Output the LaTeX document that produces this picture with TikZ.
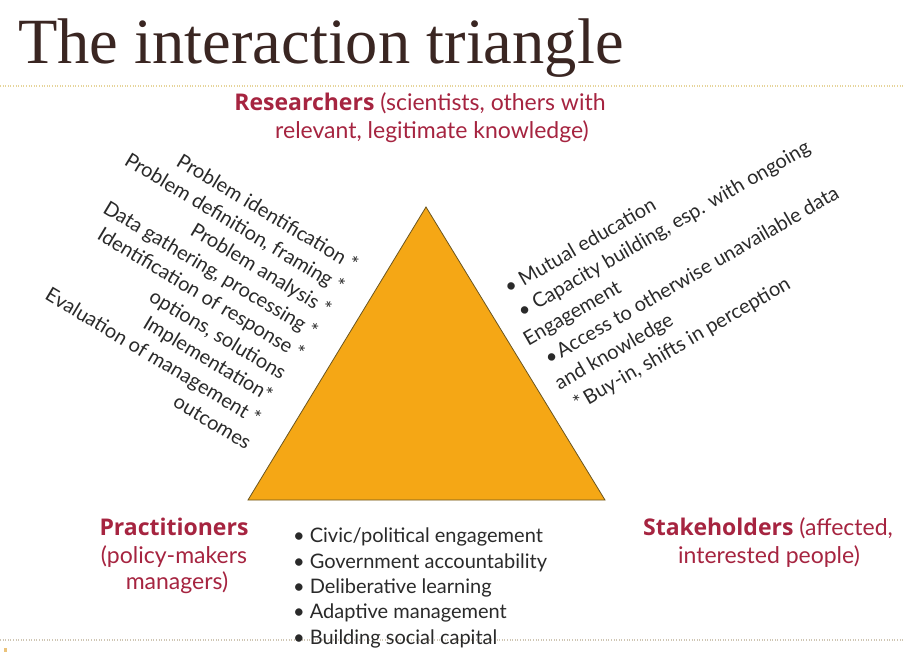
\documentclass[tikz,border=0pt]{standalone}
\usepackage{fontspec}
\setmainfont{Liberation Serif}
\newfontfamily\gill{Lato}
\newfontfamily\gillbold{Open Sans}
\definecolor{titlec}{HTML}{3A2622}
\definecolor{redt}{HTML}{A62440}
\definecolor{txt}{HTML}{2A2A2A}
\definecolor{trif}{HTML}{F5A715}
\definecolor{tril}{HTML}{6A5520}
\definecolor{dottop}{HTML}{E6D49A}
\definecolor{dotbot}{HTML}{CFC6B4}
\newcommand{\hb}[1]{{\gillbold\bfseries #1}}
\tikzset{
  head/.style={inner sep=0, text=redt, font=\gill\fontsize{23}{26}\selectfont},
  lt/.style={inner sep=0, text=txt, font=\gill\fontsize{20}{24}\selectfont, transform shape},
  blist/.style={inner sep=0, text=txt, font=\gill\fontsize{20}{24}\selectfont, anchor=base west},
  dotline/.style={line width=1.2pt, dash pattern=on 1pt off 1.6pt},
}
\begin{document}
\begin{tikzpicture}[x=1pt,y=-1pt]
\useasboundingbox (0,0) rectangle (905,654);
\fill[white] (0,0) rectangle (905,654);
% title
\node[anchor=base west, inner sep=0, text=titlec, font=\fontsize{64.5}{70}\selectfont] (title) at (18,63) {The interaction triangle};
\coordinate (tl) at (0,86); \coordinate (tr) at (905,86);
\draw[dotline, dottop] (tl) -- (tr);
\coordinate (bl) at (0,640); \coordinate (br) at (905,640);
\draw[dotline, dotbot] (bl) -- (br);
\fill[dottop!80!orange] (4,648) rectangle (7,652);
% triangle
\coordinate (apex) at (426,207);
\coordinate (tbl) at (248,500);
\coordinate (tbr) at (605,500);
\filldraw[fill=trif, draw=tril, line width=0.8pt, line join=miter] (apex) -- (tbr) -- (tbl) -- cycle;
% headings
\node[head, anchor=base] (res1) at (420,110) {\hb{Researchers} (scientists, others with};
\node[head, anchor=base] (res2) at (432,138) {relevant, legitimate knowledge)};
\node[head, anchor=base] (pr1) at (174,535) {\hb{Practitioners}};
\node[head, anchor=base] (pr2) at (174,563) {(policy-makers};
\node[head, anchor=base] (pr3) at (177,589) {managers)};
\node[head, anchor=base] (st1) at (768,535) {\hb{Stakeholders} (affected,};
\node[head, anchor=base] (st2) at (769,563) {interested people)};
% bottom list
\node[blist] (b1) at (293,542) {•\hspace{5pt}Civic/political engagement};
\node[blist] (b2) at (293,568) {•\hspace{5pt}Government accountability};
\node[blist] (b3) at (293,593) {•\hspace{5pt}Deliberative learning};
\node[blist] (b4) at (293,618) {•\hspace{5pt}Adaptive management};
\node[blist] (b5) at (293,644) {•\hspace{5pt}Building social capital};
% left rotated block
\begin{scope}[shift={(353,272)}, rotate=-31]
\node[lt, anchor=base east] (l1) at (0,0) {Problem identification *};
\node[lt, anchor=base east] (l2) at (0,26) {Problem definition, framing *};
\node[lt, anchor=base east] (l3) at (0,52) {Problem analysis *};
\node[lt, anchor=base east] (l4) at (0,78) {Data gathering, processing *};
\node[lt, anchor=base east] (l5) at (0,104) {Identification of response *};
\node[lt, anchor=base east] (l6) at (-6,130) {options, solutions};
\node[lt, anchor=base east] (l7) at (-6,156) {Implementation*};
\node[lt, anchor=base east] (l8) at (-4,182) {Evaluation of management *};
\node[lt, anchor=base east] (l9) at (0,208) {outcomes};
\end{scope}
% right rotated block
\begin{scope}[shift={(509,295)}, rotate=30]
\node[lt, anchor=base west] (r1) at (0,0) {•\hspace{5pt}Mutual education};
\node[lt, anchor=base west] (r2) at (0,27) {•\hspace{5pt}Capacity building, esp. with ongoing};
\node[lt, anchor=base west] (r3) at (-9,54) {Engagement};
\node[lt, anchor=base west] (r4) at (0,81) {•\hspace{2pt}Access to otherwise unavailable data};
\node[lt, anchor=base west] (r5) at (-4,108) {and knowledge};
\node[lt, anchor=base west] (r6) at (2,135) {*\hspace{3pt}Buy-in, shifts in perception};
\end{scope}
\end{tikzpicture}
\end{document}
